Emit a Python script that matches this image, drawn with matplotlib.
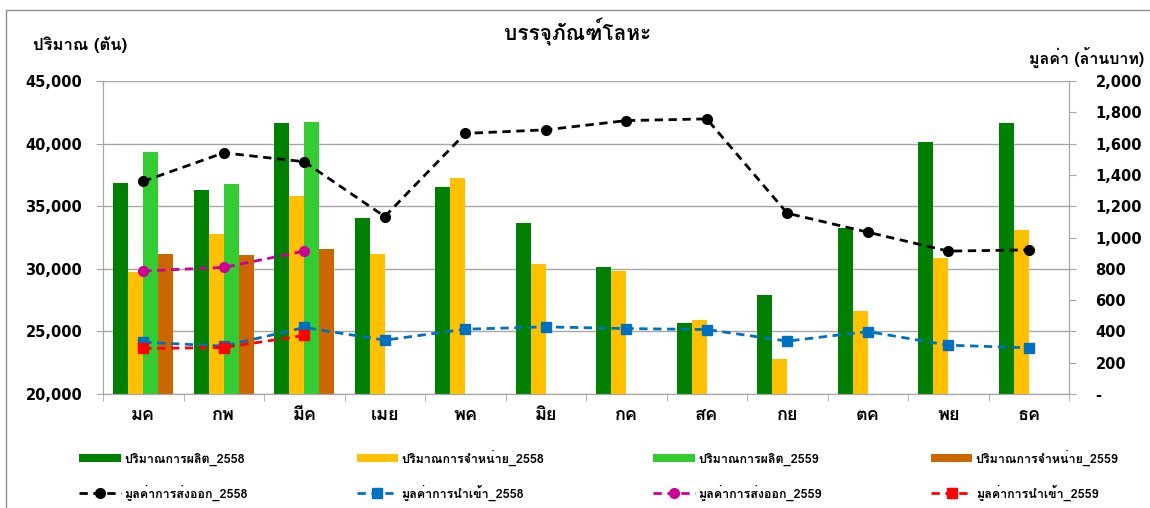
import matplotlib
matplotlib.use("Agg")
import matplotlib.pyplot as plt
from matplotlib.patches import Rectangle
from matplotlib.ticker import FuncFormatter
import numpy as np

months = ['มค', 'กพ', 'มีค', 'เมย', 'พค', 'มิย', 'กค', 'สค', 'กย', 'ตค', 'พย', 'ธค']

prod_2558 = [36830, 36320, 41630, 34040, 36530, 33670, 30170, 25650, 27940, 33240, 40120, 41680]
sales_2558 = [29710, 32740, 35820, 31170, 37250, 30380, 29790, 25890, 22790, 26660, 30880, 33080]
prod_2559 = [39350, 36750, 41710]
sales_2559 = [31170, 31090, 31600]

export_2558 = [1359, 1541, 1484, 1134, 1665, 1688, 1747, 1758, 1155, 1034, 913, 921]
import_2558 = [331, 306, 425, 344, 414, 429, 418, 412, 338, 399, 312, 295]
export_2559 = [786, 809, 913]
import_2559 = [291, 297, 374]

thai = ['Loma', 'Noto Sans Thai Looped', 'DejaVu Sans']
num = ['DejaVu Sans']
plt.rcParams['font.family'] = thai

fig = plt.figure(figsize=(11.5, 5.08), dpi=100)
ax = fig.add_axes([103 / 1150, 1 - 394 / 508, 966 / 1150, 313 / 508])
ax2 = ax.twinx()

x = np.arange(len(months))
w = 0.1875
ax.bar(x - 1.5 * w, prod_2558, w, color='#008000', label='ปริมาณการผลิต_2558')
ax.bar(x - 0.5 * w, sales_2558, w, color='#FFC000', label='ปริมาณการจำหน่าย_2558')
ax.bar(x[:3] + 0.5 * w, prod_2559, w, color='#33CC33', label='ปริมาณการผลิต_2559')
ax.bar(x[:3] + 1.5 * w, sales_2559, w, color='#CC6600', label='ปริมาณการจำหน่าย_2559')

ax.set_ylim(20000, 45000)
ax.set_xlim(-0.5, 11.5)
ax.set_yticks(np.arange(20000, 45001, 5000))
ax.yaxis.set_major_formatter(FuncFormatter(lambda v, p: f'{int(v):,}'))
ax.grid(axis='y', color='#a6a6a6', linewidth=1)
ax.set_axisbelow(True)
ax.set_xticks(x)
ax.set_xticklabels(months, fontsize=13, fontweight='bold')
ax.set_xticks(np.arange(-0.5, 12, 1), minor=True)
ax.tick_params(axis='x', which='major', length=0, pad=9)
ax.tick_params(axis='x', which='minor', length=5, color='#a6a6a6')
ax.tick_params(axis='y', length=5, color='#a6a6a6', labelsize=10.5, pad=10)
for lab in ax.get_yticklabels():
    lab.set_fontweight('bold')
    lab.set_family(num)

kw = dict(linestyle='--', linewidth=2, dashes=(3, 2))
ax2.plot(x, export_2558, color='black', marker='o', markersize=7, label='มูลค่าการส่งออก_2558', **kw)
ax2.plot(x, import_2558, color='#0070C0', marker='s', markersize=6.5, label='มูลค่าการนำเข้า_2558', **kw)
ax2.plot(x[:3], export_2559, color='#CC0099', marker='o', markersize=7, label='มูลค่าการส่งออก_2559', **kw)
ax2.plot(x[:3], import_2559, color='#FF0000', marker='s', markersize=6.5, label='มูลค่าการนำเข้า_2559', **kw)
ax2.set_ylim(0, 2000)
ax2.set_yticks(np.arange(0, 2001, 200))
ax2.yaxis.set_major_formatter(FuncFormatter(lambda v, p: '-' if v == 0 else f'{int(v):,}'))
ax2.tick_params(axis='y', length=5, color='#a6a6a6', labelsize=10.5, pad=14)
for lab in ax2.get_yticklabels():
    lab.set_fontweight('bold')
    lab.set_family(num)

for a in (ax, ax2):
    for s in a.spines.values():
        s.set_color('#a6a6a6')
    a.spines['top'].set_visible(False)

fig.text(578 / 1150, 1 - 32 / 508, 'บรรจุภัณฑ์โลหะ', ha='center', va='center', fontsize=15, fontweight='bold')
fig.text(33 / 1150, 1 - 45 / 508, 'ปริมาณ (ตัน)', ha='left', va='center', fontsize=12, fontweight='bold')
fig.text(1144 / 1150, 1 - 57 / 508, 'มูลค่า (ล้านบาท)', ha='right', va='center', fontsize=11.5, fontweight='bold')

h1, l1 = ax.get_legend_handles_labels()
h2, l2 = ax2.get_legend_handles_labels()
handles = [h1[0], h2[0], h1[1], h2[1], h1[2], h2[2], h1[3], h2[3]]
labels = [l1[0], l2[0], l1[1], l2[1], l1[2], l2[2], l1[3], l2[3]]
fig.legend(handles, labels, ncol=4, loc='center', bbox_to_anchor=(68 / 1150, 1 - 510 / 508, 1062 / 1150, 70 / 508),
           mode='expand', frameon=False, handlelength=3.3, handleheight=0.5, labelspacing=1.5,
           handletextpad=0.3, prop={'size': 9, 'weight': 'bold'})

fig.patches.append(Rectangle((6 / 1150, -0.1), 1.2, 1.1 - 10 / 508, transform=fig.transFigure,
                             fill=False, edgecolor='#8c8c8c', linewidth=1))

fig.savefig('out.png', dpi=100)
